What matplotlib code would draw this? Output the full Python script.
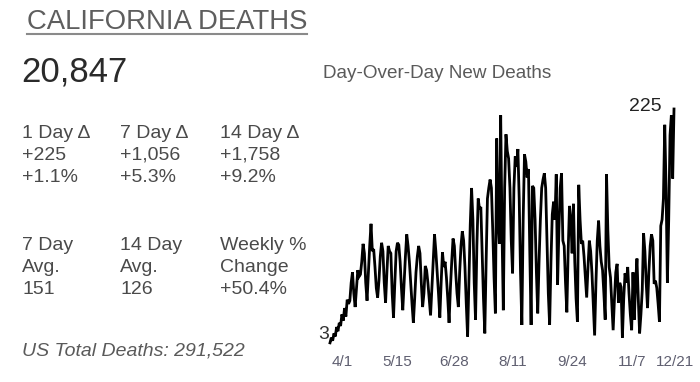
import matplotlib
matplotlib.use("Agg")
from matplotlib import pyplot as plt

plt.rcParams['font.family'] = ['Liberation Sans', 'DejaVu Sans']

# daily new deaths (first point ~3/22)
new_deaths = [
    3, 8, 5, 12, 9, 18, 14, 22, 19, 30, 24, 36, 28, 44, 40,
    43, 60, 70, 50, 37, 55, 72, 66, 68, 80, 97, 88, 60, 43, 70,
    95, 116, 90, 92, 75, 55, 46, 62, 85, 98, 90, 60, 41, 70, 95,
    90, 88, 50, 27, 60, 90, 98, 96, 80, 55, 34, 60, 85, 106, 95,
    80, 60, 40, 22, 45, 70, 85, 95, 88, 60, 37, 50, 76, 72, 60,
    45, 29, 55, 80, 106, 90, 70, 50, 27, 60, 89, 75, 80, 65, 45,
    22, 55, 80, 102, 95, 70, 50, 37, 70, 95, 109, 100, 75, 40, 9,
    60, 115, 150, 120, 60, 25, 95, 140, 130, 132, 90, 45, 12, 80, 140,
    150, 158, 150, 110, 65, 31, 197, 120, 97, 219, 110, 34, 150, 201, 185,
    178, 150, 100, 69, 150, 180, 170, 187, 140, 70, 20, 120, 182, 175, 160,
    168, 90, 20, 152, 150, 120, 70, 31, 80, 120, 150, 158, 164, 150, 100,
    50, 20, 80, 125, 137, 120, 163, 58, 110, 150, 164, 100, 95, 60, 32,
    90, 133, 120, 88, 135, 80, 45, 23, 153, 120, 97, 100, 85, 65, 46,
    75, 100, 90, 69, 40, 10, 60, 100, 119, 95, 80, 72, 50, 25, 163,
    110, 75, 65, 40, 15, 45, 70, 78, 41, 60, 56, 8, 45, 69, 60,
    75, 50, 30, 15, 70, 25, 60, 83, 45, 12, 30, 53, 107, 90, 60,
    36, 70, 95, 106, 100, 59, 62, 55, 40, 23, 114, 120, 140, 210, 150,
    60, 120, 200, 219, 159, 225,
]

tick_labels = ['4/1', '5/15', '6/28', '8/11', '9/24', '11/7', '12/21']
tick_pos = [9, 51, 94, 138, 183, 228, 261]

title = 'CALIFORNIA DEATHS'
total = '20,847'
delta_cols = [['1 Day Δ', '+225', '+1.1%'],
              ['7 Day Δ', '+1,056', '+5.3%'],
              ['14 Day Δ', '+1,758', '+9.2%']]
avg_cols = [['7 Day', 'Avg.', '151'],
            ['14 Day', 'Avg.', '126'],
            ['Weekly %', 'Change', '+50.4%']]
us_total = 'US Total Deaths: 291,522'

W, H = 700, 382
fig = plt.figure(figsize=(7.0, 3.82), dpi=100)


def px(x, y):
    return x / W, 1 - y / H


# left panel
fig.text(*px(27, 22), title, fontsize=19.8, color='#5e5e5e', va='center', ha='left')
fig.add_artist(plt.Line2D([27 / W, 307 / W], [1 - 34 / H, 1 - 34 / H], color='#8a8a8a', lw=1.5))
fig.text(*px(21, 72), total, fontsize=25, color='#2a2a2a', va='center', ha='left')

col_x = [22, 120, 220]
for cx, col in zip(col_x, delta_cols):
    for cy, s in zip([134, 155, 177], col):
        fig.text(*px(cx, cy), s, fontsize=14, color='#4a4a4a', va='center', ha='left')
for cx, col in zip(col_x, avg_cols):
    for cy, s in zip([246, 268, 290], col):
        fig.text(*px(cx, cy), s, fontsize=14, color='#4a4a4a', va='center', ha='left')

fig.text(*px(22, 351), us_total, fontsize=14, color='#5a5a5a', style='italic',
         va='center', ha='left')

# chart
fig.text(*px(323, 73), 'Day-Over-Day New Deaths', fontsize=13.6, color='#5a5a5a',
         va='center', ha='left')

x0, x1 = 330, 674
ytop, ybot = 109, 346
ax = fig.add_axes([x0 / W, 1 - ybot / H, (x1 - x0) / W, (ybot - ytop) / H])
days = list(range(len(new_deaths)))
ax.plot(days, new_deaths, color='black', lw=2.0, clip_on=False, solid_joinstyle='miter')
ax.set_xlim(0, len(new_deaths) - 1)
ax.set_ylim(0, 225)
ax.axis('off')

ax.text(-1, new_deaths[0] + 8, str(new_deaths[0]), fontsize=14, color='#333333',
        ha='right', va='center')
ax.text(days[-1] - 9, new_deaths[-1] + 2, str(new_deaths[-1]), fontsize=14,
        color='#222222', ha='right', va='center')

for p, lab in zip(tick_pos, tick_labels):
    ax.text(p, -(362 - ybot) / (ybot - ytop), lab, transform=ax.get_xaxis_transform(),
            fontsize=11, color='#5f5f70', ha='center', va='center')

fig.savefig('out.png', dpi=100, facecolor='white')
